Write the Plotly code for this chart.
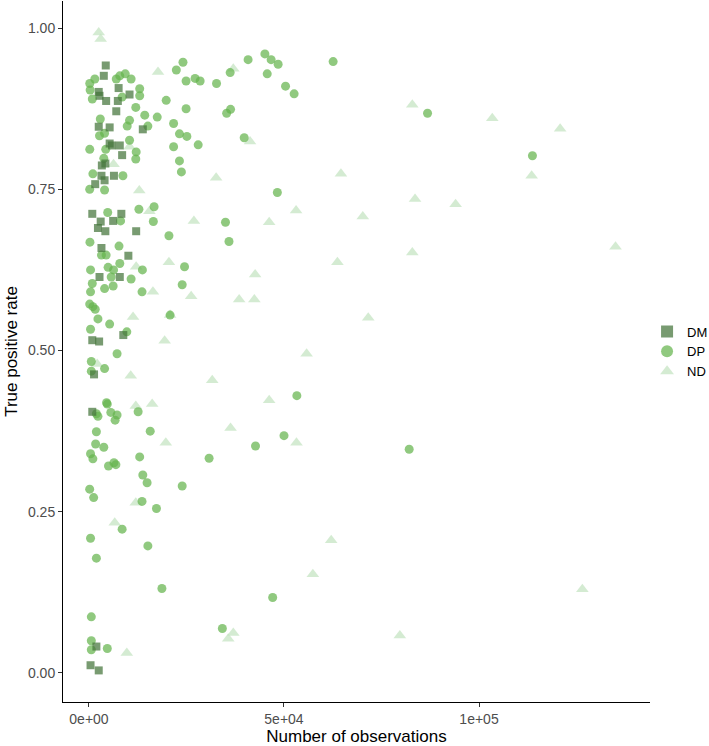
import plotly.graph_objects as go

# ---- data ----
dm_x = [4300, 3800, 2500, 2700, 4400, 7600, 7400, 10400, 7000, 2500, 5300, 13800, 5300, 5900, 7900,
        8500, 4200, 3300, 3200, 6400, 4000, 1600, 850, 8300, 6200, 2300, 3000, 4200, 12100, 3200,
        10100, 2700, 7900, 850, 2600, 8800, 1300, 850, 1900, 400, 2500]
dm_y = [0.942, 0.926, 0.901, 0.895, 0.887, 0.907, 0.887, 0.897, 0.871, 0.847, 0.846, 0.843, 0.821, 0.818, 0.818,
        0.803, 0.790, 0.787, 0.771, 0.771, 0.764, 0.758, 0.712, 0.712, 0.701, 0.690, 0.700, 0.685, 0.685, 0.659,
        0.647, 0.614, 0.614, 0.516, 0.514, 0.524, 0.463, 0.405, 0.041, 0.012, 0.004]

dp_x = [200, 1500, 300, 850, 7000, 7900, 9300, 10800, 13000, 13000, 8500, 12000, 14300, 17500, 19800,
        22400, 24100, 24900, 24900, 21700, 23200, 25100, 21700, 23200, 23700, 10400, 9800, 15100, 2900, 2700,
        4000, 200, 4300, 10400, 12100, 12000, 3800, 1000, 8700,
        27200, 28500, 32700, 36200, 40800, 35300, 36300, 39800, 28000, 35000, 35900, 16700, 12800, 16500, 20500,
        4800, 8100, 250, 7700, 3200, 4400,
        180, 4000, 13700, 24500, 400, 4900, 6300, 7900, 5700, 10800, 850, 400, 4000, 6200, 13600, 23900,
        180, 1000, 1600, 2300, 5300, 400, 20800, 9700,
        600, 4000, 600, 7200, 4700, 4500, 1900, 2300, 5600, 7200, 6700, 12600, 1900, 15700, 1700, 3800, 400,
        1000, 5000, 6400, 6900, 13000, 13800, 14900, 23900, 180, 1200, 13600, 17300,
        8500, 400, 15100, 1900, 18700, 600, 600, 600, 4700,
        42700, 30800, 34200, 45100, 46700, 48500, 45700, 50400, 52600, 62600, 86800, 113700, 48300, 53300,
        50000, 82100, 47100]
dp_y = [0.914, 0.921, 0.904, 0.890, 0.921, 0.926, 0.929, 0.921, 0.906, 0.895, 0.893, 0.877, 0.865, 0.862, 0.888,
        0.935, 0.947, 0.918, 0.875, 0.852, 0.836, 0.832, 0.816, 0.794, 0.777, 0.857, 0.848, 0.848, 0.859, 0.833,
        0.837, 0.812, 0.812, 0.826, 0.808, 0.797, 0.798, 0.774, 0.771,
        0.922, 0.918, 0.914, 0.931, 0.951, 0.868, 0.874, 0.830, 0.819, 0.699, 0.669, 0.723, 0.719, 0.700, 0.678,
        0.714, 0.701, 0.668, 0.662, 0.648, 0.648,
        0.750, 0.749, 0.625, 0.630, 0.625, 0.629, 0.625, 0.635, 0.614, 0.611, 0.604, 0.591, 0.596, 0.600, 0.591, 0.602,
        0.572, 0.568, 0.564, 0.549, 0.541, 0.533, 0.555, 0.529,
        0.483, 0.472, 0.468, 0.495, 0.417, 0.419, 0.402, 0.398, 0.404, 0.400, 0.392, 0.405, 0.374, 0.375, 0.355, 0.350, 0.340,
        0.332, 0.321, 0.326, 0.323, 0.335, 0.307, 0.295, 0.290, 0.285, 0.272, 0.266, 0.255,
        0.223, 0.209, 0.197, 0.178, 0.131, 0.087, 0.050, 0.036, 0.038,
        0.352, 0.333, 0.069, 0.960, 0.951, 0.944, 0.929, 0.910, 0.898, 0.948, 0.868, 0.802, 0.745, 0.430,
        0.368, 0.347, 0.117]

nd_x = [2500, 3000, 17700, 6300, 10400, 37000, 41300, 32600, 26900, 12900, 15500, 20500, 12100, 16400, 26200,
        11300, 20800, 19400, 2100, 10700, 12000, 16200, 19700, 12000, 6600, 9700, 42600, 38500, 42400, 31600,
        36300, 37000, 35700, 82900, 103400, 120800, 113500, 64600, 83600, 94000, 53100, 46200, 70200, 82900,
        63700, 71600, 55800, 46200, 53200, 62100, 57400, 79700, 126500, 135000]
nd_y = [0.993, 0.983, 0.932, 0.789, 0.816, 0.937, 0.824, 0.768, 0.701, 0.748, 0.716, 0.637, 0.630, 0.591, 0.584,
        0.552, 0.555, 0.515, 0.479, 0.461, 0.414, 0.417, 0.357, 0.264, 0.233, 0.031, 0.618, 0.579, 0.579, 0.454,
        0.380, 0.062, 0.053, 0.881, 0.860, 0.844, 0.771, 0.774, 0.735, 0.727, 0.717, 0.699, 0.708, 0.652,
        0.637, 0.551, 0.495, 0.423, 0.357, 0.206, 0.153, 0.058, 0.130, 0.661]

x_tickvals = [0, 50000, 100000]
x_ticktext = ["0e+00", "5e+04", "1e+05"]
y_tickvals = [0.0, 0.25, 0.5, 0.75, 1.0]
y_ticktext = ["0.00", "0.25", "0.50", "0.75", "1.00"]

FONT = "Liberation Sans, Arial, sans-serif"

fig = go.Figure()
fig.add_trace(go.Scatter(x=nd_x, y=nd_y, mode="markers", name="ND", legendrank=3,
                         marker=dict(symbol="triangle-up", size=11, color="rgb(196,227,192)", opacity=0.72,
                                     line=dict(width=0))))
fig.add_trace(go.Scatter(x=dp_x, y=dp_y, mode="markers", name="DP", legendrank=2,
                         marker=dict(symbol="circle", size=9, color="rgb(101,180,77)", opacity=0.72,
                                     line=dict(width=0))))
fig.add_trace(go.Scatter(x=dm_x, y=dm_y, mode="markers", name="DM", legendrank=1,
                         marker=dict(symbol="square", size=8, color="rgb(68,116,58)", opacity=0.72,
                                     line=dict(width=0))))

fig.update_layout(
    width=709, height=746,
    margin=dict(l=63, r=59, t=1, b=44, autoexpand=False),
    plot_bgcolor="white", paper_bgcolor="white",
    font=dict(family=FONT, size=14, color="#4d4d4d"),
    showlegend=True,
    legend=dict(x=0.995, xanchor="left", y=0.5, yanchor="middle",
                font=dict(family=FONT, size=13, color="black"),
                bgcolor="rgba(0,0,0,0)", itemsizing="constant", tracegroupgap=0),
    xaxis=dict(range=[-6660, 143840], tickvals=x_tickvals, ticktext=x_ticktext,
               showgrid=False, zeroline=False, showline=True, linecolor="black", linewidth=1,
               ticks="outside", ticklen=4, tickcolor="#333333", tickwidth=1,
               tickfont=dict(family=FONT, size=14, color="#4d4d4d"),
               title=dict(text="Number of observations", font=dict(family=FONT, size=17, color="black"),
                          standoff=2)),
    yaxis=dict(range=[-0.045, 1.042], tickvals=y_tickvals, ticktext=y_ticktext,
               showgrid=False, zeroline=False, showline=True, linecolor="black", linewidth=1,
               ticks="outside", ticklen=4, tickcolor="#333333", tickwidth=1,
               tickfont=dict(family=FONT, size=14, color="#4d4d4d"),
               title=dict(text="True positive rate", font=dict(family=FONT, size=17, color="black"),
                          standoff=6)),
)

fig.write_html("out.html")
